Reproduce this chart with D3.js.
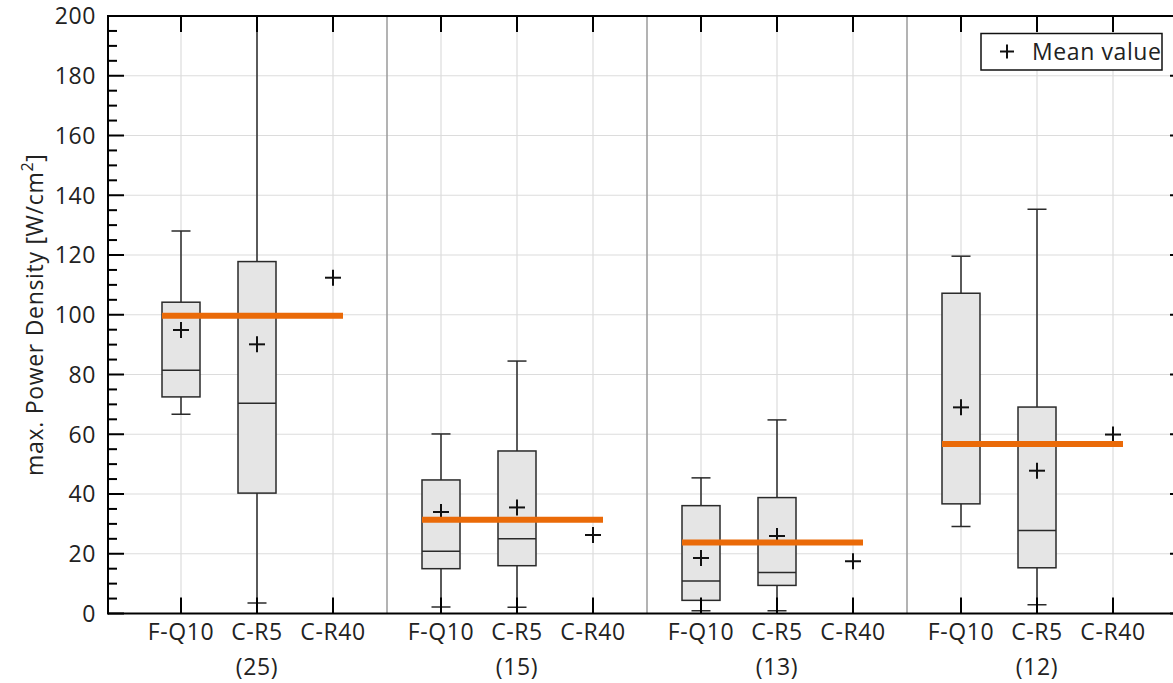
<!DOCTYPE html>
<html><head><meta charset="utf-8">
<script src="https://cdn.jsdelivr.net/npm/d3@7/dist/d3.min.js"></script>
<style>body{margin:0;background:#fff}svg{display:block}text{font-family:"Open Sans",sans-serif;fill:#222;letter-spacing:0.6px}</style>
</head><body><svg id="c" width="1173" height="683"></svg>
<script>
const groups = ["(25)", "(15)", "(13)", "(12)"];
const methods = ["F-Q10", "C-R5", "C-R40"];
// per group: [F-Q10, C-R5, C-R40]; null = no box
const whiskerLow  = [[66.7, 3.5, null], [2.2, 2.1, null], [0.9, 0.9, null], [29.1, 2.9, null]];
const q1          = [[72.5, 40.3, null], [15.0, 16.0, null], [4.4, 9.4, null], [36.7, 15.3, null]];
const median      = [[81.4, 70.4, null], [20.8, 25.0, null], [10.9, 13.7, null], [56.8, 27.8, null]];
const q3          = [[104.2, 117.8, null], [44.7, 54.4, null], [36.1, 38.8, null], [107.2, 69.1, null]];
const whiskerHigh = [[128.0, 215.0, null], [60.1, 84.5, null], [45.4, 64.8, null], [119.6, 135.3, null]];
const meanValue   = [[94.9, 90.1, 112.4], [34.0, 35.5, 26.3], [18.6, 25.9, 17.5], [69.0, 47.8, 59.9]];
const groupRef    = [99.7, 31.4, 23.8, 56.7];
const yMajorTicks = [0, 20, 40, 60, 80, 100, 120, 140, 160, 180, 200];
const yMinorTicks = d3.range(0, 201, 5).filter(v => v % 20 !== 0);

const svg = d3.select("#c");
const L = 108, R = 1186, T = 16, B = 613.5;
const FS = 23;
const y = d3.scaleLinear().domain([0, 200]).range([B, T]);
const xg = d3.scaleBand().domain(groups).range([127, 1167]).padding(0);
const xm = d3.scalePoint().domain(methods).range([54, 206]);
const cx = (g, m) => xg(g) + xm(m);

svg.append("defs").append("clipPath").attr("id", "pc")
  .append("rect").attr("x", L).attr("y", T).attr("width", R - L).attr("height", B - T);

// grid
const grid = svg.append("g");
yMajorTicks.forEach(v => grid.append("line").attr("x1", L).attr("x2", R).attr("y1", y(v)).attr("y2", y(v))
  .attr("stroke", "#dcdcdc").attr("stroke-width", 1.2));
groups.forEach(g => methods.forEach(m => grid.append("line").attr("x1", cx(g, m)).attr("x2", cx(g, m))
  .attr("y1", T).attr("y2", B).attr("stroke", "#dcdcdc").attr("stroke-width", 1.2)));
groups.slice(1).forEach(g => grid.append("line").attr("x1", xg(g)).attr("x2", xg(g))
  .attr("y1", T).attr("y2", B).attr("stroke", "#9a9a9a").attr("stroke-width", 1.5));

// boxes
const plot = svg.append("g").attr("clip-path", "url(#pc)");
groups.forEach((g, gi) => methods.forEach((m, mi) => {
  if (q1[gi][mi] == null) return;
  const x0 = cx(g, m), hw = 19, cw = 9.5;
  const s = "#2a2a2a";
  plot.append("line").attr("x1", x0).attr("x2", x0).attr("y1", y(q3[gi][mi])).attr("y2", y(whiskerHigh[gi][mi])).attr("stroke", s).attr("stroke-width", 1.5);
  plot.append("line").attr("x1", x0).attr("x2", x0).attr("y1", y(q1[gi][mi])).attr("y2", y(whiskerLow[gi][mi])).attr("stroke", s).attr("stroke-width", 1.5);
  plot.append("line").attr("x1", x0 - cw).attr("x2", x0 + cw).attr("y1", y(whiskerHigh[gi][mi])).attr("y2", y(whiskerHigh[gi][mi])).attr("stroke", s).attr("stroke-width", 1.5);
  plot.append("line").attr("x1", x0 - cw).attr("x2", x0 + cw).attr("y1", y(whiskerLow[gi][mi])).attr("y2", y(whiskerLow[gi][mi])).attr("stroke", s).attr("stroke-width", 1.5);
  plot.append("rect").attr("x", x0 - hw).attr("width", 2 * hw).attr("y", y(q3[gi][mi])).attr("height", y(q1[gi][mi]) - y(q3[gi][mi]))
    .attr("fill", "#e5e5e5").attr("stroke", s).attr("stroke-width", 1.5);
  plot.append("line").attr("x1", x0 - hw).attr("x2", x0 + hw).attr("y1", y(median[gi][mi])).attr("y2", y(median[gi][mi])).attr("stroke", s).attr("stroke-width", 1.5);
}));

// means
const plus = (g, px, py, s) => {
  g.append("line").attr("x1", px - s).attr("x2", px + s).attr("y1", py).attr("y2", py).attr("stroke", "#111").attr("stroke-width", 2);
  g.append("line").attr("x1", px).attr("x2", px).attr("y1", py - s).attr("y2", py + s).attr("stroke", "#111").attr("stroke-width", 2);
};
groups.forEach((g, gi) => methods.forEach((m, mi) => plus(plot, cx(g, m), y(meanValue[gi][mi]), 8)));

// reference lines
groups.forEach((g, gi) => plot.append("line")
  .attr("x1", cx(g, methods[0]) - 19).attr("x2", cx(g, methods[2]) + 10)
  .attr("y1", y(groupRef[gi])).attr("y2", y(groupRef[gi]))
  .attr("stroke", "#ea6a08").attr("stroke-width", 6));

// axes frame
const ax = svg.append("g");
ax.append("line").attr("x1", L).attr("x2", R).attr("y1", T).attr("y2", T).attr("stroke", "#000").attr("stroke-width", 2);
ax.append("line").attr("x1", L).attr("x2", R).attr("y1", B).attr("y2", B).attr("stroke", "#000").attr("stroke-width", 2);
ax.append("line").attr("x1", L).attr("x2", L).attr("y1", T - 1).attr("y2", B + 1).attr("stroke", "#000").attr("stroke-width", 2);
ax.append("line").attr("x1", R).attr("x2", R).attr("y1", T - 1).attr("y2", B + 1).attr("stroke", "#000").attr("stroke-width", 2);
yMajorTicks.forEach(v => {
  ax.append("line").attr("x1", L).attr("x2", L + 16).attr("y1", y(v)).attr("y2", y(v)).attr("stroke", "#000").attr("stroke-width", 2);
  ax.append("line").attr("x1", R).attr("x2", R - 16).attr("y1", y(v)).attr("y2", y(v)).attr("stroke", "#000").attr("stroke-width", 2);
  ax.append("text").attr("x", 96).attr("y", y(v)).attr("dy", "0.36em").attr("text-anchor", "end").attr("font-size", FS).text(v);
});
yMinorTicks.forEach(v => {
  ax.append("line").attr("x1", L).attr("x2", L + 9).attr("y1", y(v)).attr("y2", y(v)).attr("stroke", "#000").attr("stroke-width", 2);
  ax.append("line").attr("x1", R).attr("x2", R - 9).attr("y1", y(v)).attr("y2", y(v)).attr("stroke", "#000").attr("stroke-width", 2);
});
groups.forEach(g => {
  methods.forEach(m => {
    const px = cx(g, m);
    ax.append("line").attr("x1", px).attr("x2", px).attr("y1", T).attr("y2", T + 16).attr("stroke", "#000").attr("stroke-width", 2);
    ax.append("line").attr("x1", px).attr("x2", px).attr("y1", B).attr("y2", B - 16).attr("stroke", "#000").attr("stroke-width", 2);
    ax.append("text").attr("x", px).attr("y", 640).attr("text-anchor", "middle").attr("font-size", FS).text(m);
  });
  ax.append("text").attr("x", cx(g, methods[1])).attr("y", 675).attr("text-anchor", "middle").attr("font-size", FS).text(g);
});

// y label
const yl = ax.append("text").attr("transform", `translate(43,${(T + B) / 2}) rotate(-90)`)
  .attr("text-anchor", "middle").attr("font-size", FS).style("letter-spacing", "0.7px");
yl.append("tspan").text("max. Power Density [W/cm");
yl.append("tspan").attr("font-size", 16).attr("dy", -10).text("2");
yl.append("tspan").attr("dy", 10).text("]");

// legend
const lg = svg.append("g");
lg.append("rect").attr("x", 981).attr("y", 33.5).attr("width", 181).attr("height", 36.5).attr("fill", "#fff").attr("stroke", "#111").attr("stroke-width", 1.5);
plus(lg, 1007, 51.5, 7);
lg.append("text").attr("x", 1032).attr("y", 51.5).attr("dy", "0.36em").attr("font-size", FS).text("Mean value");
</script></body></html>
